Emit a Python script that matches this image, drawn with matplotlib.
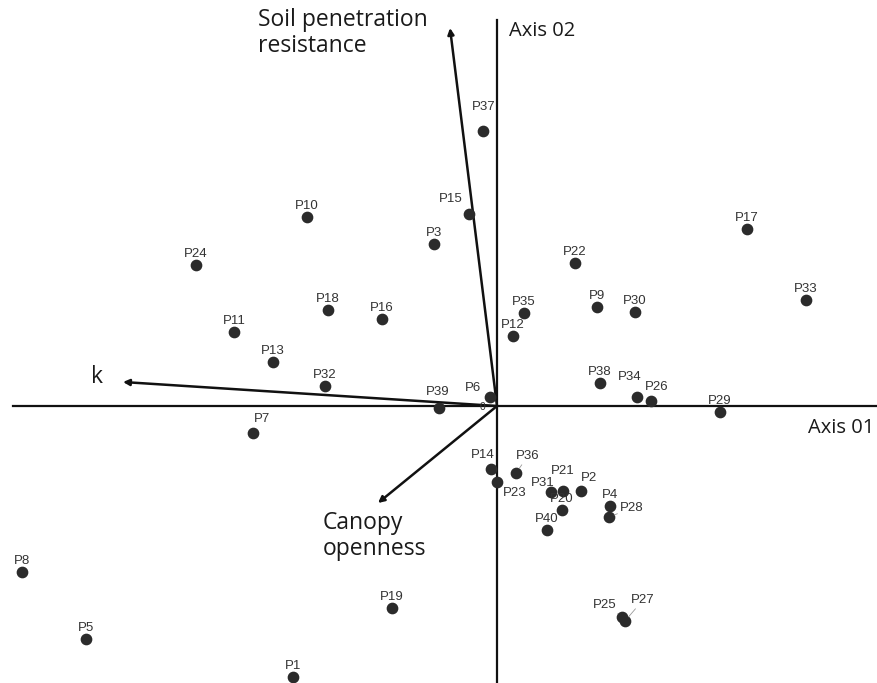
import matplotlib
matplotlib.use("Agg")
import matplotlib.pyplot as plt

# site scores (Axis 01, Axis 02)
names = ["P1", "P2", "P3", "P4", "P5", "P6", "P7", "P8", "P9", "P10",
         "P11", "P12", "P13", "P14", "P15", "P16", "P17", "P18", "P19", "P20",
         "P21", "P22", "P23", "P24", "P25", "P26", "P27", "P28", "P29", "P30",
         "P31", "P32", "P33", "P34", "P35", "P36", "P37", "P38", "P39", "P40"]
axis1 = [-2.04, 0.84, -0.63, 1.13, -4.11, -0.07, -2.44, -4.75, 1.00, -1.90,
         -2.63, 0.16, -2.24, -0.06, -0.28, -1.15, 2.50, -1.69, -1.05, 0.65,
         0.66, 0.78, 0.00, -3.01, 1.25, 1.54, 1.28, 1.12, 2.23, 1.38,
         0.54, -1.72, 3.09, 1.40, 0.27, 0.19, -0.14, 1.03, -0.58, 0.50]
axis2 = [-2.71, -0.85, 1.62, -1.00, -2.33, 0.09, -0.27, -1.66, 0.99, 1.89,
         0.74, 0.70, 0.44, -0.63, 1.92, 0.87, 1.77, 0.96, -2.02, -1.04,
         -0.85, 1.43, -0.76, 1.41, -2.11, 0.05, -2.15, -1.11, -0.06, 0.94,
         -0.86, 0.20, 1.06, 0.09, 0.93, -0.67, 2.75, 0.23, -0.02, -1.24]

# environmental vectors
vec_names = ["Soil penetration\nresistance", "k", "Canopy\nopenness"]
vec_x = [-0.47, -3.74, -1.19]
vec_y = [3.78, 0.24, -0.97]

# label offsets in pixels (right, up); default is straight above
label_offset = {"P37": (1, 24), "P15": (-18, 15), "P39": (-1, 16), "P6": (-17, 9),
                "P34": (-7, 20), "P26": (6, 14), "P14": (-8, 14), "P36": (12, 17),
                "P23": (18, -11), "P21": (0, 20), "P31": (-8, 9), "P2": (8, 13),
                "P28": (23, 9), "P7": (9, 14), "P25": (-17, 12), "P27": (18, 21)}
leaders = ["P25", "P27", "P28", "P36"]

fig = plt.figure(figsize=(8.78, 6.83), dpi=100)
ax = fig.add_axes([0, 0, 1, 1])
ax.set_xlim(-4.97, 3.81)
ax.set_ylim(-2.77, 4.06)
ax.axis("off")

# ordination axes
ax.plot([-4.84, 3.81], [0, 0], color="#111111", lw=1.6, zorder=1)
ax.plot([0, 0], [-2.77, 3.86], color="#111111", lw=1.6, zorder=1)

ax.scatter(axis1, axis2, s=55, color="#2b2b2b", zorder=3)

for n, x, y in zip(names, axis1, axis2):
    dx, dy = label_offset.get(n, (0, 11))
    props = None
    if n in leaders:
        props = dict(arrowstyle="-", color="#999999", lw=0.6, shrinkA=0, shrinkB=4)
    ax.annotate(n, (x, y), xytext=(dx, dy), textcoords="offset pixels",
                ha="center", va="center", fontsize=9.5, family="Liberation Sans",
                color="#333333", arrowprops=props, zorder=4)

ax.text(-0.14, -0.01, "0", fontsize=7.5, family="Liberation Sans",
        color="#333333", ha="center", va="center")

for vx, vy in zip(vec_x, vec_y):
    ax.annotate("", (vx, vy), xytext=(0, 0),
                arrowprops=dict(arrowstyle="-|>", color="#111111", lw=1.8,
                                mutation_scale=9, shrinkA=0, shrinkB=0),
                zorder=2)

font = dict(family="Open Sans", fontsize=16.5, color="#1a1a1a")
ax.text(-2.39, 3.98, vec_names[0], ha="left", va="top", linespacing=1.12, **font)
ax.text(-4.06, 0.23, vec_names[1], ha="left", va="baseline", **font)
ax.text(-1.74, -1.05, vec_names[2], ha="left", va="top", linespacing=1.12, **font)
axfont = dict(family="Open Sans", fontsize=14.5, color="#1a1a1a")
ax.text(0.12, 3.70, "Axis 02", ha="left", va="baseline", **axfont)
ax.text(3.77, -0.27, "Axis 01", ha="right", va="baseline", **axfont)

fig.savefig("out.png", dpi=100)
